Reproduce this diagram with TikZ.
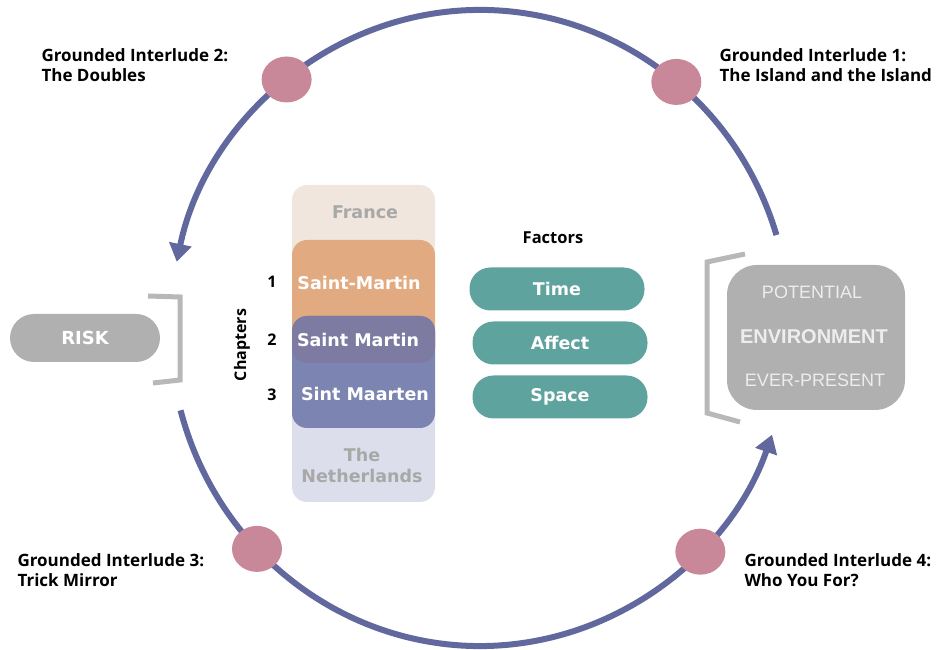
\documentclass[tikz,border=0pt]{standalone}
\usepackage{fontspec}
\setmainfont{Open Sans}
\newfontfamily\boxfont{DejaVu Sans}
\newfontfamily\envfont{Liberation Sans}
\usetikzlibrary{arrows.meta,shapes.geometric}
\definecolor{ring}{RGB}{96,104,158}
\definecolor{dotc}{RGB}{201,136,153}
\definecolor{teal}{RGB}{95,163,158}
\definecolor{greyb}{RGB}{176,176,176}
\definecolor{brk}{RGB}{184,184,184}
\definecolor{francec}{RGB}{240,230,221}
\definecolor{orangec}{RGB}{226,170,128}
\definecolor{darkc}{RGB}{125,123,162}
\definecolor{bluec}{RGB}{124,132,178}
\definecolor{nethc}{RGB}{220,222,235}
\definecolor{paletext}{RGB}{168,168,168}
\tikzset{
  ringline/.style={draw=ring,line width=6pt,-{Triangle[width=22pt,length=18pt]}},
  gdot/.style={ellipse,fill=dotc,minimum width=50pt,minimum height=46pt,inner sep=0pt},
  lab/.style={font=\fontsize{17}{20}\selectfont\bfseries,align=left,anchor=west,text=black},
  chbox/.style={rectangle,rounded corners=15pt,minimum width=143pt,inner sep=0pt},
  chtext/.style={font=\boxfont\fontsize{17.5}{21}\selectfont\bfseries,align=center},
  pill/.style={rectangle,rounded corners=21pt,fill=teal,minimum width=175pt,minimum height=43pt,
    text=white,font=\boxfont\fontsize{17.5}{20}\selectfont\bfseries},
  bracketline/.style={draw=brk,line width=5pt},
  envtext/.style={text=white!93!black,font=\envfont\fontsize{18}{20}\selectfont},
  num/.style={font=\fontsize{16}{18}\selectfont\bfseries}
}
\begin{document}
\begin{tikzpicture}[x=1pt,y=1pt]
\useasboundingbox (0,0) rectangle (943,650);
\coordinate (C) at (480,322);
% ring arcs
\draw[ringline] ([shift={(17:310pt and 318pt)}]C) arc[start angle=17,end angle=168,x radius=310pt,y radius=318pt];
\draw[ringline] ([shift={(195:310pt and 318pt)}]C) arc[start angle=195,end angle=340.4,x radius=310pt,y radius=318pt];
% dots
\node[gdot] (g1) at ([shift={(50.7:310pt and 318pt)}]C) {};
\node[gdot] (g2) at ([shift={(128.6:310pt and 318pt)}]C) {};
\node[gdot] (g3) at ([shift={(224:310pt and 318pt)}]C) {};
\node[gdot] (g4) at ([shift={(315.3:310pt and 318pt)}]C) {};
% labels
\node[lab] (l1) at (716,585) {Grounded Interlude 1:\\The Island and the Island};
\node[lab] (l2) at (38,585) {Grounded Interlude 2:\\The Doubles};
\node[lab] (l3) at (14,80) {Grounded Interlude 3:\\Trick Mirror};
\node[lab] (l4) at (741,80) {Grounded Interlude 4:\\Who You For?};
% chapter stack
\node[chbox,fill=nethc,minimum height=122pt] (neth) at (363.5,209) {};
\node[chbox,fill=francec,minimum height=115pt] (france) at (363.5,407.5) {};
\node[chbox,fill=orangec,minimum height=123pt] (smfr) at (363.5,348.5) {};
\node[chbox,fill=bluec,minimum height=112pt] (smnl) at (363.5,278) {};
\node[chbox,fill=darkc,minimum height=47pt] (smov) at (363.5,310.5) {};
\node[chtext,text=paletext] (tfr) at (365,438) {France};
\node[chtext,text=white] (tsmfr) at (359,367) {Saint-Martin};
\node[chtext,text=white] (tsm) at (358,310) {Saint Martin};
\node[chtext,text=white] (tsmnl) at (365,256) {Sint Maarten};
\node[chtext,text=paletext] (tneth) at (362,185) {The\\Netherlands};
\node[num] (n1) at (272,368) {1};
\node[num] (n2) at (272,310) {2};
\node[num] (n3) at (272,255) {3};
\node[num,rotate=90] (chap) at (242,305) {Chapters};
% factors
\node[num,font=\fontsize{16.5}{18}\selectfont\bfseries] (fac) at (553,412) {Factors};
\node[pill] (time) at (557,361) {Time};
\node[pill] (affect) at (560,307) {Affect};
\node[pill] (space) at (560,253) {Space};
% risk
\node[rectangle,rounded corners=24pt,fill=greyb,minimum width=150pt,minimum height=48pt,
  text=white,font=\boxfont\fontsize{18}{20}\selectfont\bfseries] (risk) at (85,312) {RISK};
\coordinate (rb1) at (148,354);
\coordinate (rb2) at (180,353);
\coordinate (rb3) at (180,270);
\coordinate (rb4) at (153,267);
\draw[bracketline] (rb1) -- (rb2) -- (rb3) -- (rb4);
% environment
\node[rectangle,rounded corners=30pt,fill=greyb,minimum width=178pt,minimum height=145pt] (env) at (816,312.5) {};
\node[envtext] (pot) at (812,358) {POTENTIAL};
\node[envtext,font=\envfont\fontsize{20}{22}\selectfont\bfseries] (envt) at (814,313) {ENVIRONMENT};
\node[envtext] (ever) at (815,270) {EVER-PRESENT};
\coordinate (eb1) at (745,396);
\coordinate (eb2) at (707,388);
\coordinate (eb3) at (707,237);
\coordinate (eb4) at (740,228);
\draw[bracketline] (eb1) -- (eb2) -- (eb3) -- (eb4);
\end{tikzpicture}
\end{document}
